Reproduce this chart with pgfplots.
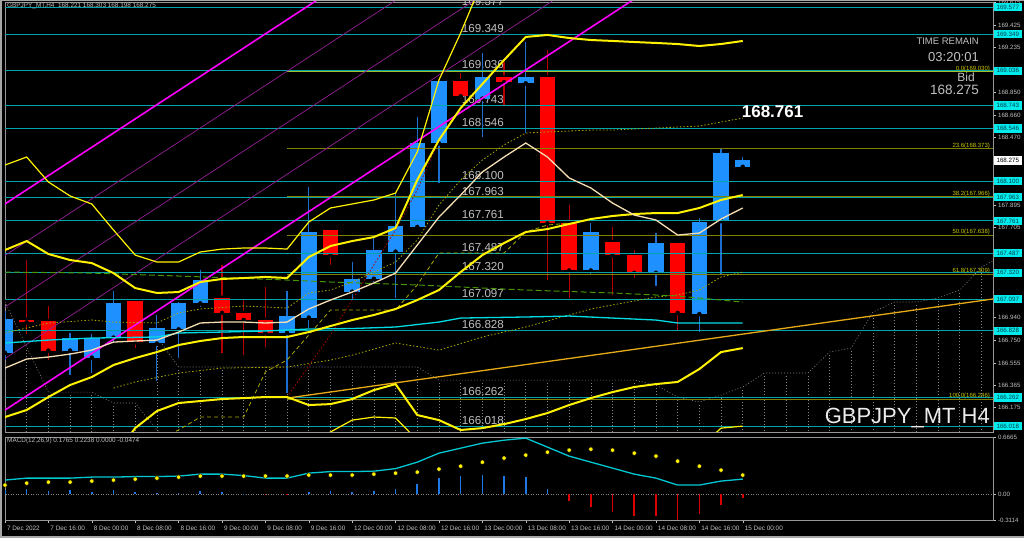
\documentclass[border=0pt]{standalone}
\usepackage{pgfplots}
\pgfplotsset{compat=1.18}
\usepackage{pgfplotstable}
\usepackage{fontspec}
\setmainfont{Liberation Sans}

\definecolor{upc}{RGB}{30,144,255}
\definecolor{dnc}{RGB}{255,0,0}
\definecolor{upw}{RGB}{30,110,210}
\definecolor{dnw}{RGB}{180,0,0}
\definecolor{hcy}{RGB}{0,165,170}
\definecolor{boxc}{RGB}{0,235,235}
\definecolor{boxt}{RGB}{0,60,80}
\definecolor{fibc}{RGB}{128,128,0}
\definecolor{fibz}{RGB}{160,190,40}
\definecolor{fibt}{RGB}{200,200,0}
\definecolor{lgray}{RGB}{192,192,192}
\definecolor{frm}{RGB}{150,150,150}
\definecolor{wht}{RGB}{245,222,179}
\definecolor{maC}{RGB}{0,220,230}
\definecolor{grn}{RGB}{70,150,0}
\definecolor{oliv}{RGB}{170,170,0}
\definecolor{dred}{RGB}{170,0,0}
\definecolor{cld}{RGB}{135,135,135}
\definecolor{orng}{RGB}{230,170,20}
\definecolor{mag}{RGB}{255,0,255}
\definecolor{pur}{RGB}{150,30,150}
\definecolor{macdc}{RGB}{0,200,210}
\definecolor{hblue}{RGB}{30,120,230}
\definecolor{hred}{RGB}{220,0,0}

% candles: bar index, open, high, low, close
\pgfplotstableread{
k o h l c
0 166.64 167.00 166.58 166.93
3 166.66 166.81 166.45 166.77
4 166.60 166.80 166.47 166.77
5 166.77 167.17 166.72 167.06
7 166.72 166.96 166.40 166.85
8 166.84 167.07 166.60 167.06
9 167.06 167.34 167.03 167.26
13 166.81 167.17 166.30 166.95
14 166.94 168.05 166.85 167.67
16 167.16 167.41 167.09 167.27
17 167.27 167.62 167.24 167.51
18 167.50 168.00 167.11 167.72
19 167.71 168.64 167.70 168.42
20 168.42 168.95 168.08 168.95
22 168.80 169.19 168.47 168.98
24 168.93 169.28 168.51 168.98
27 167.34 167.74 167.30 167.67
30 167.32 167.66 167.21 167.57
32 166.97 167.79 166.82 167.75
33 167.76 168.38 167.30 168.34
34 168.221 168.303 168.198 168.275
}\upbars
\pgfplotstableread{
k o h l c
1 166.92 167.43 166.80 166.90
2 166.91 167.04 166.58 166.66
6 167.08 167.09 166.68 166.73
10 167.11 167.39 166.64 166.98
11 166.98 167.09 166.62 166.92
12 166.92 167.20 166.69 166.81
15 167.68 167.70 167.39 167.47
21 168.95 169.02 168.80 168.82
23 168.98 169.11 168.74 168.94
25 168.98 169.21 167.26 167.74
26 167.74 167.90 167.11 167.34
28 167.58 167.71 167.13 167.47
29 167.47 167.51 167.28 167.32
31 167.57 167.58 166.83 166.98
}\dnbars

% bollinger: +3s, +2s, mid, -2s, -3s
\pgfplotstableread{
k u3 u2 m d2 d3
0 168.236 167.514 166.095 164.900 164.500
1 168.304 167.590 166.155 164.900 164.500
2 168.092 167.480 166.265 165.200 164.600
3 167.973 167.429 166.367 165.400 164.800
4 167.905 167.403 166.435 165.500 164.900
5 167.684 167.318 166.537 165.755 165.300
6 167.471 167.191 166.596 166.001 165.600
7 167.412 167.149 166.647 166.146 165.800
8 167.412 167.157 166.707 166.214 165.850
9 167.497 167.242 166.741 166.231 165.850
10 167.522 167.268 166.766 166.248 165.850
11 167.531 167.276 166.775 166.256 165.850
12 167.531 167.285 166.775 166.265 165.870
13 167.522 167.276 166.775 166.265 165.880
14 167.752 167.454 166.817 166.197 165.866
15 167.871 167.548 166.868 166.205 165.968
16 167.905 167.590 166.919 166.248 166.069
17 167.939 167.624 166.962 166.324 166.095
18 167.998 167.701 167.013 166.375 166.087
19 168.347 168.109 167.089 166.112 165.900
20 168.958 168.449 167.174 166.069 165.645
21 169.358 168.720 167.327 165.985 165.400
22 169.800 168.924 167.471 166.001 165.300
23 170.000 169.128 167.573 166.035 165.300
24 170.100 169.324 167.667 166.078 165.300
25 170.100 169.341 167.692 166.129 165.400
26 170.050 169.315 167.735 166.197 165.500
27 170.000 169.298 167.777 166.256 165.500
28 169.950 169.290 167.803 166.307 165.500
29 169.900 169.281 167.820 166.350 165.500
30 169.900 169.273 167.828 166.375 165.550
31 169.900 169.264 167.828 166.393 165.679
32 169.850 169.247 167.871 166.503 165.832
33 169.850 169.264 167.939 166.647 166.001
34 169.900 169.290 167.981 166.681 166.018
}\bands

\pgfplotstableread{
k v
0 166.511
1 166.588
2 166.605
3 166.630
4 166.664
5 166.732
6 166.741
7 166.749
8 166.817
9 166.894
10 166.902
11 166.902
12 166.894
13 166.902
14 167.013
15 167.089
16 167.157
17 167.234
18 167.318
19 167.556
20 167.794
21 167.981
22 168.177
23 168.304
24 168.423
25 168.304
26 168.126
27 168.041
28 167.913
29 167.811
30 167.769
31 167.641
32 167.658
33 167.777
34 167.871
}\fastma

\pgfplotstableread{
k v
0 166.724
2 166.749
4 166.766
7 166.775
8 166.809
10 166.817
12 166.826
14 166.843
16 166.847
18 166.860
20 166.902
21 166.936
24 166.945
26 166.953
28 166.936
30 166.919
31 166.894
34 166.894
}\cyanma

\pgfplotstableread{
k v
0 167.327
4 167.318
8 167.293
13 167.259
15 167.242
19 167.217
24 167.174
28 167.149
31 167.123
34 167.072
}\greenma

\pgfplotstableread{
k v
0 166.809
2 166.894
4 166.919
5 166.902
7 166.894
8 166.979
9 167.013
11 167.038
12 167.030
13 167.021
14 167.149
15 167.174
16 167.242
17 167.327
18 167.412
19 167.599
20 167.896
21 168.109
22 168.279
23 168.406
24 168.508
25 168.517
26 168.525
27 168.533
28 168.533
29 168.542
30 168.550
31 168.559
32 168.567
33 168.601
34 168.635
}\olivea

\pgfplotstableread{
k v
5 166.341
6 166.393
8 166.469
10 166.511
13 166.520
15 166.579
16 166.621
18 166.724
20 166.664
22 166.775
24 166.860
27 167.013
30 167.115
31 167.132
32 167.174
33 167.285
34 167.327
}\oliveb

\pgfplotstableread{
k v
7 165.900
8 165.985
9 166.095
11 166.095
12 166.478
13 166.580
14 166.792
15 167.004
18 167.004
19 167.217
20 167.488
23 167.488
24 167.667
25 167.726
26 167.743
}\kline

\pgfplotstableread{
k v
13 166.265
15 166.792
17 167.387
18 167.684
19 168.024
20 168.449
}\redline

\pgfplotstableread{
k p
0 167.072
1 166.690
2 166.307
3 166.307
4 166.307
5 166.214
6 166.214
7 165.985
8 165.857
}\gone

\pgfplotstableread{
k p
7 166.775
8 166.520
9 166.520
10 166.520
11 166.520
12 166.520
13 166.520
14 166.520
15 166.520
16 166.520
17 166.520
18 166.520
19 166.520
20 166.409
21 166.409
22 166.409
23 166.409
24 166.409
25 166.409
26 166.409
27 166.409
28 166.409
29 166.409
30 166.367
31 166.265
32 166.222
33 166.282
34 166.350
35 166.469
36 166.469
37 166.469
38 166.647
39 166.681
40 166.987
41 167.072
42 167.072
43 167.106
44 167.174
45 167.369
46 167.471
}\gtwo

% MACD main and signal
\pgfplotstableread{
k m s
0 0.165 0.106
1 0.188 0.129
2 0.188 0.141
3 0.188 0.141
4 0.200 0.153
5 0.200 0.165
6 0.206 0.176
7 0.206 0.188
8 0.212 0.200
9 0.235 0.212
10 0.235 0.212
11 0.218 0.212
12 0.188 0.212
13 0.188 0.212
14 0.247 0.224
15 0.265 0.224
16 0.265 0.224
17 0.270 0.235
18 0.300 0.247
19 0.376 0.259
20 0.482 0.294
21 0.541 0.329
22 0.600 0.376
23 0.635 0.424
24 0.659 0.459
25 0.553 0.494
26 0.447 0.518
27 0.376 0.529
28 0.306 0.518
29 0.235 0.482
30 0.188 0.447
31 0.106 0.388
32 0.106 0.329
33 0.153 0.282
34 0.1765 0.2238
}\macd

\pgfplotstableread{
k v
0 0.050
1 0.059
2 0.040
3 0.043
4 0.030
5 0.050
6 0.030
7 0.016
8 0.012
9 0.040
10 0.024
11 0.004
14 0.024
15 0.040
16 0.030
17 0.040
18 0.060
19 0.118
20 0.188
21 0.212
22 0.224
23 0.212
24 0.200
25 0.059
}\hpos

\pgfplotstableread{
k v
12 -0.015
13 -0.015
26 -0.078
27 -0.153
28 -0.212
29 -0.259
30 -0.259
31 -0.300
32 -0.235
33 -0.125
34 -0.0474
}\hneg

\begin{document}
\begin{tikzpicture}
\useasboundingbox (0,0) rectangle (1024pt,538pt);
\fill[black] (0,0) rectangle (1024pt,538pt);

\begin{axis}[
  at={(5pt,106pt)}, anchor=south west,
  scale only axis, width=988pt, height=430pt,
  xmin=0, xmax=45.534, ymin=165.968, ymax=169.621,
  clip mode=individual,
  axis line style={frm, line width=0.8pt},
  xtick=\empty,
  ytick={166.175,166.365,166.555,166.750,166.940,167.705,167.895,168.470,168.660,168.850,169.235,169.425,169.615},
  yticklabels={166.175,166.365,166.555,166.750,166.940,167.705,167.895,168.470,168.660,168.850,169.235,169.425,169.615},
  ytick pos=right, yticklabel pos=right,
  tick align=outside, major tick length=2.5pt,
  tick style={lgray, line width=0.5pt},
  yticklabel style={font=\fontsize{6.2}{7}\selectfont, text=lgray, xshift=-1pt},
]
% cloud hatching and borders
\addplot[only marks, mark=none, forget plot, error bars/.cd, y dir=minus, y explicit, error mark=none,
  error bar style={draw=cld, line width=0.6pt, dash pattern=on 1pt off 2pt}]
  table[x=k, y=p, y error minus expr=\thisrow{p}-165.9] {\gone};
\addplot[only marks, mark=none, forget plot, error bars/.cd, y dir=minus, y explicit, error mark=none,
  error bar style={draw=cld, line width=0.6pt, dash pattern=on 1pt off 2pt}]
  table[x=k, y=p, y error minus expr=\thisrow{p}-165.9] {\gtwo};
\addplot[cld, line width=0.6pt, dash pattern=on 1pt off 2pt] table[x=k, y=p] {\gone};
\addplot[cld, line width=0.6pt, dash pattern=on 1pt off 2pt] table[x=k, y=p] {\gtwo};

% price labels of the horizontal lines
\pgfplotsinvokeforeach{169.577,169.349,169.036,168.743,168.546,168.100,167.963,167.761,167.487,167.320,167.097,166.828,166.262,166.018}{
  \node[anchor=base west, text=lgray, font=\fontsize{11.6}{12}\selectfont, inner sep=0pt, yshift=2pt] at (axis cs:21.05,#1) {#1};
}

% candles
\addplot[only marks, mark=none, forget plot, error bars/.cd, y dir=both, y explicit, error mark=none,
  error bar style={draw=upw, line width=1.2pt}]
  table[x=k, y=o, y error plus expr=\thisrow{h}-\thisrow{o}, y error minus expr=\thisrow{o}-\thisrow{l}] {\upbars};
\addplot[only marks, mark=none, forget plot, error bars/.cd, y dir=both, y explicit, error mark=none,
  error bar style={draw=dnw, line width=1.2pt}]
  table[x=k, y=o, y error plus expr=\thisrow{h}-\thisrow{o}, y error minus expr=\thisrow{o}-\thisrow{l}] {\dnbars};
\addplot[only marks, mark=none, forget plot, error bars/.cd, y dir=plus, y explicit, error mark=none,
  error bar style={draw=upc, line width=15.5pt}]
  table[x=k, y=o, y error plus expr=\thisrow{c}-\thisrow{o}] {\upbars};
\addplot[only marks, mark=none, forget plot, error bars/.cd, y dir=plus, y explicit, error mark=none,
  error bar style={draw=dnc, line width=15.5pt}]
  table[x=k, y=c, y error plus expr=\thisrow{o}-\thisrow{c}] {\dnbars};

% horizontal levels
\pgfplotsinvokeforeach{169.577,169.349,169.036,168.743,168.546,168.100,167.963,167.761,167.487,167.320,167.097,166.828,166.262,166.018}{
  \addplot[hcy, line width=0.9pt] coordinates {(-1,#1) (47,#1)};
}
% fibonacci levels
\addplot[fibz, line width=0.9pt] coordinates {(13,169.030) (47,169.030)};
\pgfplotsinvokeforeach{168.373,167.966,167.638,167.309,166.246}{
  \addplot[fibc, line width=0.9pt] coordinates {(13,#1) (47,#1)};
}

% channel
\addplot[mag, line width=1.6pt] coordinates {(-1,167.785) (32,171.758)};
\addplot[pur, line width=0.7pt] coordinates {(-1,167.347) (32,171.320)};
\addplot[pur, line width=0.7pt] coordinates {(-1,166.910) (32,170.883)};
\addplot[pur, line width=0.7pt] coordinates {(-1,166.472) (32,170.445)};
\addplot[mag, line width=1.6pt] coordinates {(-1,166.034) (32,170.007)};
\addplot[orng, line width=1.3pt] coordinates {(13,166.256) (46,167.110)};

% indicators
\addplot[oliv, line width=0.8pt, dash pattern=on 4pt off 3pt] table[x=k, y=v] {\kline};
\addplot[dred, line width=0.8pt, dash pattern=on 1.5pt off 2pt] table[x=k, y=v] {\redline};
\addplot[oliv, line width=0.8pt, dash pattern=on 1.5pt off 2pt] table[x=k, y=v] {\olivea};
\addplot[oliv, line width=0.8pt, dash pattern=on 1.5pt off 2pt] table[x=k, y=v] {\oliveb};
\addplot[grn, line width=1pt, dash pattern=on 6pt off 3pt] table[x=k, y=v] {\greenma};
\addplot[maC, line width=1.3pt] table[x=k, y=v] {\cyanma};
\addplot[yellow, line width=1.2pt] table[x=k, y=u3] {\bands};
\addplot[yellow, line width=2pt] table[x=k, y=u2] {\bands};
\addplot[yellow, line width=2pt] table[x=k, y=m] {\bands};
\addplot[yellow, line width=2pt] table[x=k, y=d2] {\bands};
\addplot[yellow, line width=1.2pt] table[x=k, y=d3] {\bands};
\addplot[wht, line width=1.3pt] table[x=k, y=v] {\fastma};

% text objects
\node[anchor=west, text=white, font=\bfseries\fontsize{17}{18}\selectfont, inner sep=0pt] at (axis cs:33.95,168.686) {168.761};
\node[anchor=base east, text=fibt, font=\fontsize{6}{7}\selectfont, inner sep=0pt, yshift=1.5pt] at (axis cs:45.40,169.030) {0.0(169.030)};
\node[anchor=base east, text=fibt, font=\fontsize{6}{7}\selectfont, inner sep=0pt, yshift=1.5pt] at (axis cs:45.40,168.373) {23.6(168.373)};
\node[anchor=base east, text=fibt, font=\fontsize{6}{7}\selectfont, inner sep=0pt, yshift=1.5pt] at (axis cs:45.40,167.966) {38.2(167.966)};
\node[anchor=base east, text=fibt, font=\fontsize{6}{7}\selectfont, inner sep=0pt, yshift=1.5pt] at (axis cs:45.40,167.638) {50.0(167.638)};
\node[anchor=base east, text=fibt, font=\fontsize{6}{7}\selectfont, inner sep=0pt, yshift=1.5pt] at (axis cs:45.40,167.309) {61.8(167.309)};
\node[anchor=base east, text=fibt, font=\fontsize{6}{7}\selectfont, inner sep=0pt, yshift=1.5pt] at (axis cs:45.40,166.246) {100.0(166.246)};

% price boxes on the scale
\pgfplotsinvokeforeach{169.577,169.349,169.036,168.743,168.546,168.100,167.963,167.761,167.487,167.320,167.097,166.828,166.262,166.018}{
  \node[anchor=west, fill=boxc, text=boxt, font=\fontsize{6.2}{7}\selectfont, inner sep=0pt, minimum width=28pt, minimum height=8.5pt] at (axis cs:45.56,#1) {#1};
}
\node[anchor=west, fill=white, text=black, font=\fontsize{6.2}{7}\selectfont, inner sep=0pt, minimum width=28pt, minimum height=8.5pt] at (axis cs:45.56,168.275) {168.275};
\end{axis}

\begin{axis}[
  at={(5pt,17.5pt)}, anchor=south west,
  scale only axis, width=988pt, height=83pt,
  xmin=0, xmax=45.534, ymin=-0.3114, ymax=0.6665,
  axis line style={frm, line width=0.8pt},
  xtick={0,2,...,34},
  xticklabels={7 Dec 2022,7 Dec 16:00,8 Dec 00:00,8 Dec 08:00,8 Dec 16:00,9 Dec 00:00,9 Dec 08:00,9 Dec 16:00,12 Dec 00:00,12 Dec 08:00,12 Dec 16:00,13 Dec 00:00,13 Dec 08:00,13 Dec 16:00,14 Dec 00:00,14 Dec 08:00,14 Dec 16:00,15 Dec 00:00},
  xtick pos=bottom,
  ytick={-0.3114,0,0.6665}, yticklabels={-0.3114,0.00,0.6665},
  ytick pos=right, yticklabel pos=right,
  tick align=outside, major tick length=2.5pt,
  tick style={lgray, line width=0.5pt},
  xticklabel style={anchor=north west, xshift=-1.5pt, yshift=1pt, font=\fontsize{6.4}{7}\selectfont, text=lgray},
  yticklabel style={font=\fontsize{6.2}{7}\selectfont, text=lgray, xshift=-1pt},
]
\addplot[cld, line width=0.6pt, dash pattern=on 1pt off 1.5pt] coordinates {(-1,0) (47,0)};
\addplot[ycomb, hblue, line width=1.6pt] table[x=k, y=v] {\hpos};
\addplot[ycomb, hred, line width=1.6pt] table[x=k, y=v] {\hneg};
\addplot[macdc, line width=1.3pt] table[x=k, y=m] {\macd};
\addplot[only marks, mark=*, mark size=2.2pt, mark options={draw=none, fill=yellow}] table[x=k, y=s] {\macd};
\end{axis}

% window frame and texts
\draw[gray!70, line width=2pt] (1pt,0) -- (1pt,538pt);
\draw[gray!70, line width=2pt] (0,1pt) -- (1024pt,1pt);
\draw[gray!70, line width=1.5pt] (0,537.3pt) -- (1024pt,537.3pt);
\node[anchor=west, text=lgray, font=\fontsize{6.4}{7}\selectfont, inner sep=0pt] at (7pt,532pt) {GBPJPY\_MT,H4\ \ 168.221 168.303 168.198 168.275};
\node[anchor=west, text=lgray, font=\fontsize{6.4}{7}\selectfont, inner sep=0pt] at (7pt,97pt) {MACD(12,26,9) 0.1765 0.2238 0.0000 -0.0474};
\node[anchor=east, text=lgray, font=\fontsize{9.5}{10}\selectfont, inner sep=0pt] at (979pt,497pt) {TIME REMAIN};
\node[anchor=east, text=lgray, font=\fontsize{13}{14}\selectfont, inner sep=0pt] at (979pt,481pt) {03:20:01};
\node[anchor=east, text=lgray, font=\fontsize{12}{13}\selectfont, inner sep=0pt] at (975pt,461pt) {Bid};
\node[anchor=east, text=lgray, font=\fontsize{13.5}{14}\selectfont, inner sep=0pt] at (979pt,448pt) {168.275};
\node[anchor=east, text=gray!15, font=\fontsize{22}{24}\selectfont, inner sep=0pt] at (990pt,120pt) {GBPJPY\_MT H4};
\end{tikzpicture}
\end{document}
